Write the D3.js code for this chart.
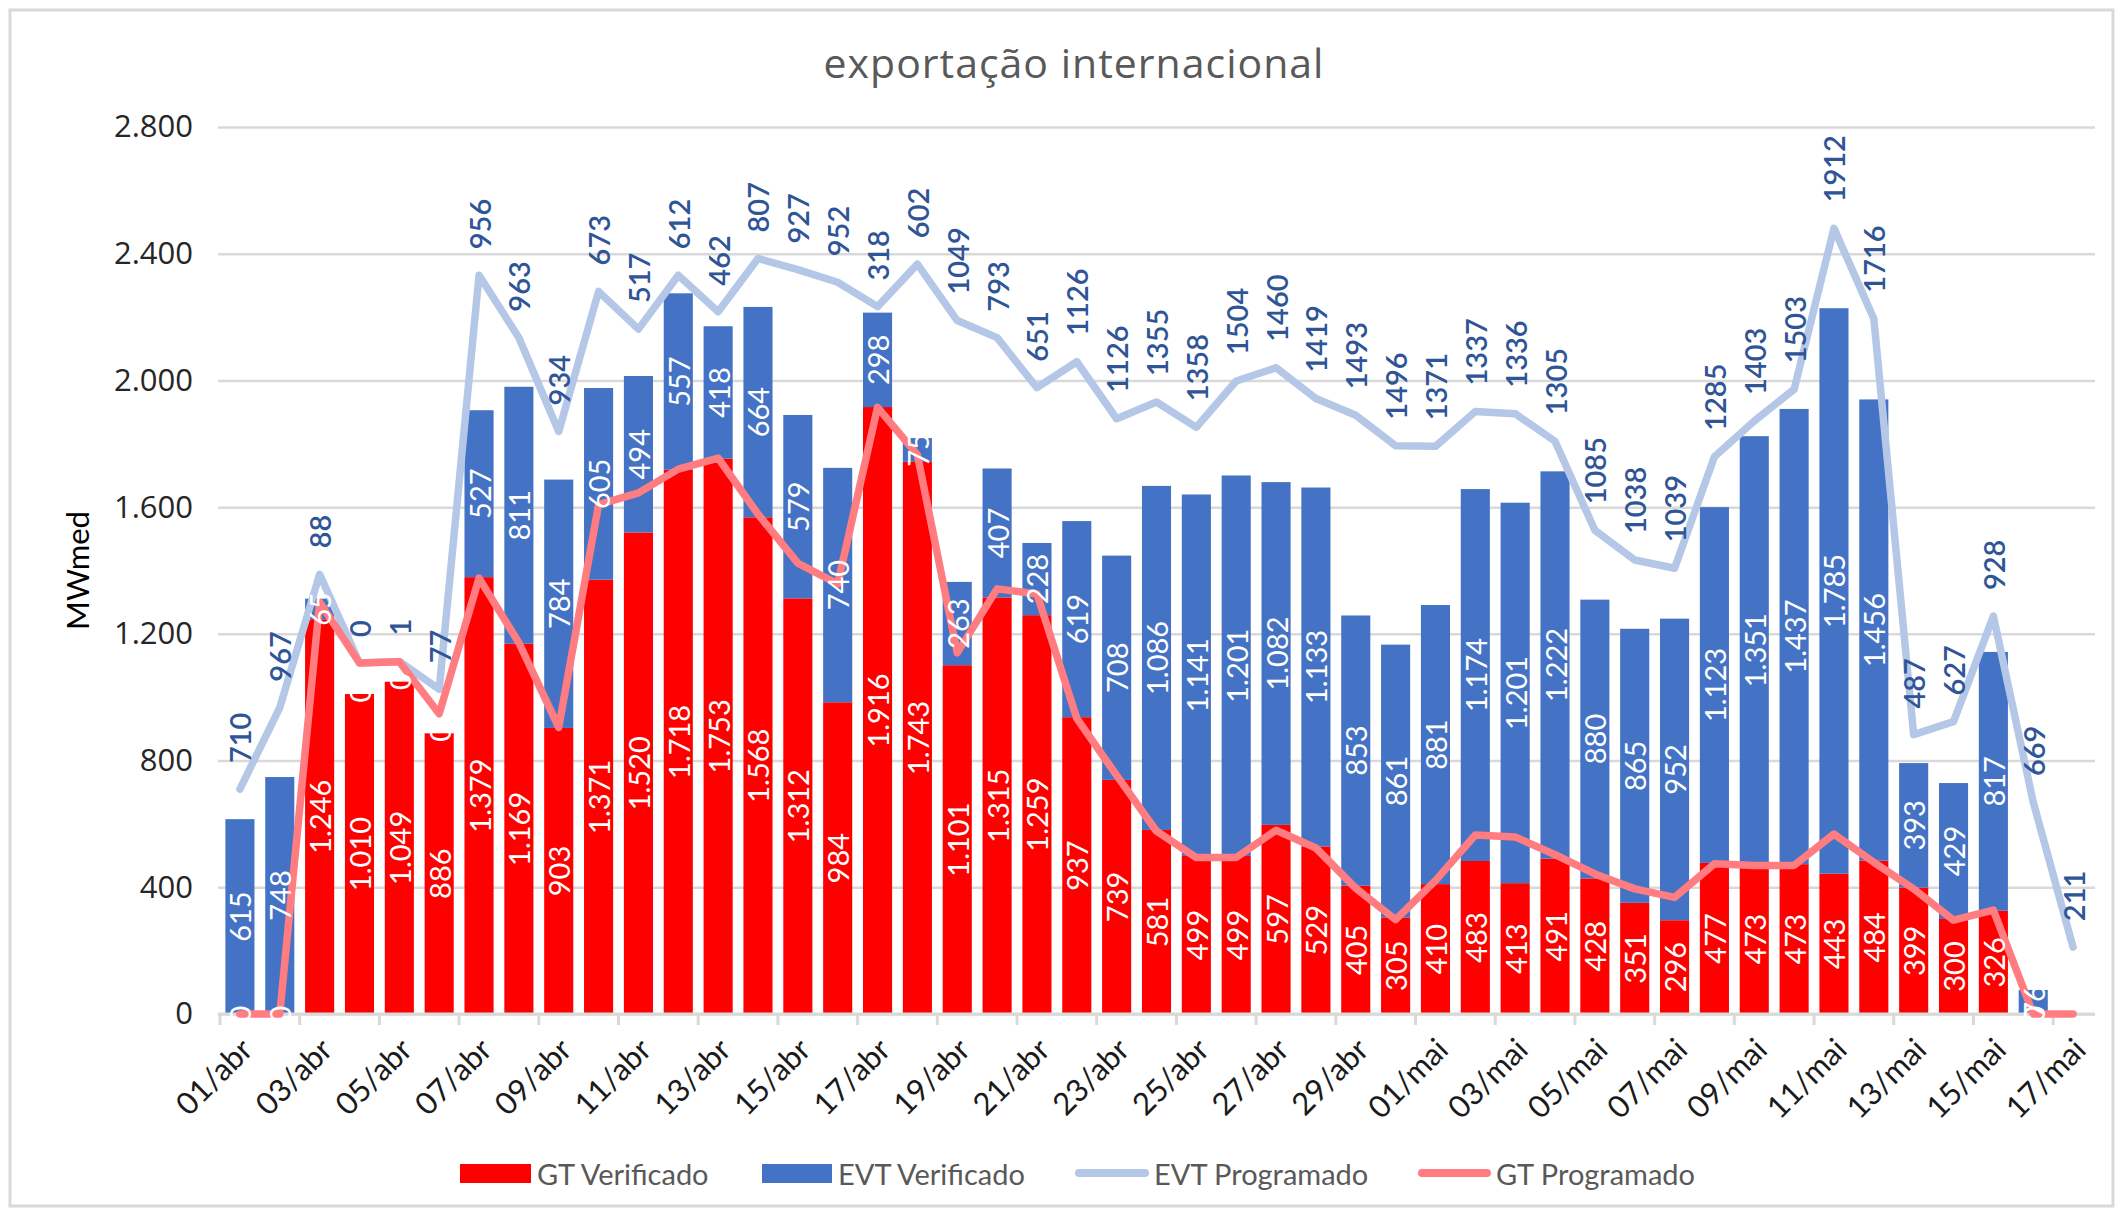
<!DOCTYPE html>
<html>
<head>
<meta charset="utf-8">
<script src="https://cdn.jsdelivr.net/npm/d3@7"></script>
<style>
  html, body { margin: 0; padding: 0; background: #ffffff; }
  svg { display: block; }
</style>
</head>
<body>
<svg id="chart" width="2123" height="1216"></svg>
<script>
// Daily dates, 01/abr .. 17/mai
const days = [
  "01/abr","02/abr","03/abr","04/abr","05/abr","06/abr","07/abr","08/abr","09/abr","10/abr",
  "11/abr","12/abr","13/abr","14/abr","15/abr","16/abr","17/abr","18/abr","19/abr","20/abr",
  "21/abr","22/abr","23/abr","24/abr","25/abr","26/abr","27/abr","28/abr","29/abr","30/abr",
  "01/mai","02/mai","03/mai","04/mai","05/mai","06/mai","07/mai","08/mai","09/mai","10/mai",
  "11/mai","12/mai","13/mai","14/mai","15/mai","16/mai","17/mai"
];

// GT Verificado (MWmed)
const gtVerificado = [
  0, 0, 1246, 1010, 1049, 886, 1379, 1169, 903, 1371,
  1520, 1718, 1753, 1568, 1312, 984, 1916, 1743, 1101, 1315,
  1259, 937, 739, 581, 499, 499, 597, 529, 405, 305,
  410, 483, 413, 491, 428, 351, 296, 477, 473, 473,
  443, 484, 399, 300, 326, 0, null
];

// EVT Verificado (MWmed), stacked on GT Verificado
const evtVerificado = [
  615, 748, 65, 0, 0, 0, 527, 811, 784, 605,
  494, 557, 418, 664, 579, 740, 298, 75, 263, 407,
  228, 619, 708, 1086, 1141, 1201, 1082, 1133, 853, 861,
  881, 1174, 1201, 1222, 880, 865, 952, 1123, 1351, 1437,
  1785, 1456, 393, 429, 817, 76, null
];

// GT Programado (MWmed)
const gtProgramado = [
  0, 0, 1300, 1108, 1112, 948, 1376, 1172, 905, 1608,
  1645, 1720, 1755, 1578, 1423, 1358, 1915, 1765, 1140, 1342,
  1326, 933, 753, 577, 494, 494, 580, 524, 397, 298,
  421, 565, 559, 503, 442, 395, 368, 474, 469, 469,
  568, 479, 395, 296, 328, 0, 0
];

// EVT Programado (MWmed), stacked line on top of GT Programado
const evtProgramado = [
  710, 967, 88, 0, 1, 77, 956, 963, 934, 673,
  517, 612, 462, 807, 927, 952, 318, 602, 1049, 793,
  651, 1126, 1126, 1355, 1358, 1504, 1460, 1419, 1493, 1496,
  1371, 1337, 1336, 1305, 1085, 1038, 1039, 1285, 1403, 1503,
  1912, 1716, 487, 627, 928, 669, 211
];

const yTicks = [0, 400, 800, 1200, 1600, 2000, 2400, 2800];

const seriesNames = ["GT Verificado", "EVT Verificado", "EVT Programado", "GT Programado"];

// ---------------------------------------------------------------------------
const W = 2123, H = 1216;
const plot = { left: 220, right: 2093, top: 127, bottom: 1014 };
const C = {
  gtV: "#FF0000",
  evtV: "#4472C4",
  evtP: "#B4C7E7",
  gtP: "#FF7C80",
  grid: "#D9D9D9",
  evtLabel: "#2F5597",
  text: "#595959"
};
const FONT = "Lato, 'Open Sans', sans-serif";

const ptBR = d3.formatLocale({ decimal: ",", thousands: ".", grouping: [3], currency: ["R$", ""] });
const fmtDot = ptBR.format(",d");
const fmtPlain = d3.format("d");

const svg = d3.select("#chart");

// chart border
svg.append("rect")
  .attr("x", 10).attr("y", 10)
  .attr("width", W - 20).attr("height", H - 20)
  .attr("fill", "#fff").attr("stroke", C.grid).attr("stroke-width", 3);

const x = d3.scaleBand().domain(days).range([plot.left, plot.right]).paddingInner(0.27).paddingOuter(0.135);
const xc = d => x(d) + x.bandwidth() / 2;
const y = d3.scaleLinear().domain([0, 2800]).range([plot.bottom, plot.top]);

// gridlines + y labels
const yAxis = d3.axisLeft(y).tickValues(yTicks).tickSize(-(plot.right - plot.left + 4)).tickPadding(25)
  .tickFormat(d => fmtDot(d));
const gy = svg.append("g").attr("transform", `translate(${plot.left - 2},0)`).call(yAxis);
gy.select(".domain").remove();
gy.selectAll(".tick line").attr("stroke", C.grid).attr("stroke-width", 2.5);
gy.selectAll(".tick text")
  .attr("font-family", "'Open Sans', sans-serif").attr("font-size", 31).attr("fill", "#262626");

// y title
svg.append("text")
  .attr("transform", `translate(77,${(plot.top + plot.bottom) / 2}) rotate(-90)`)
  .attr("text-anchor", "middle").attr("dominant-baseline", "central")
  .attr("font-family", FONT).attr("font-size", 31).attr("fill", "#000")
  .text("MWmed");

// title
svg.append("text")
  .attr("x", 1074).attr("y", 62)
  .attr("text-anchor", "middle").attr("dominant-baseline", "central")
  .attr("font-family", "'Open Sans', sans-serif").attr("font-size", 41)
  .attr("letter-spacing", 1).attr("fill", C.text)
  .text("exportação internacional");

// stacked bars
const rows = days.map((d, i) => ({ day: d, gt: gtVerificado[i], evt: evtVerificado[i], gtp: gtProgramado[i], evtp: evtProgramado[i] }));
const barRows = rows.filter(r => r.gt !== null && r.evt !== null);

const gBars = svg.append("g");
gBars.selectAll("rect.gt").data(barRows).join("rect").attr("class", "gt")
  .attr("x", r => x(r.day)).attr("width", x.bandwidth())
  .attr("y", r => y(r.gt)).attr("height", r => y(0) - y(r.gt))
  .attr("fill", C.gtV);
gBars.selectAll("rect.evt").data(barRows).join("rect").attr("class", "evt")
  .attr("x", r => x(r.day)).attr("width", x.bandwidth())
  .attr("y", r => y(r.gt + r.evt)).attr("height", r => y(r.gt) - y(r.gt + r.evt))
  .attr("fill", C.evtV);

// x axis line + ticks every two days
svg.append("line")
  .attr("x1", plot.left - 2).attr("x2", plot.right + 2)
  .attr("y1", plot.bottom).attr("y2", plot.bottom)
  .attr("stroke", C.grid).attr("stroke-width", 3);
const step = x.step();
const tickXs = d3.range(0, days.length, 2).map(i => x(days[i]) - (step - x.bandwidth()) / 2);
svg.append("g").selectAll("line").data(tickXs).join("line")
  .attr("x1", d => d).attr("x2", d => d)
  .attr("y1", plot.bottom).attr("y2", plot.bottom + 11)
  .attr("stroke", C.grid).attr("stroke-width", 3);

// x labels (every other day)
svg.append("g").selectAll("text").data(days.filter((d, i) => i % 2 === 0)).join("text")
  .attr("transform", d => `translate(${xc(d) + 7},${plot.bottom + 30}) rotate(-45)`)
  .attr("text-anchor", "end").attr("dy", "0.35em")
  .attr("font-family", FONT).attr("font-size", 31).attr("fill", "#1a1a1a")
  .text(d => d);

// lines
const lineEvt = d3.line().x(r => xc(r.day)).y(r => y(r.gtp + r.evtp));
const lineGt = d3.line().x(r => xc(r.day)).y(r => y(r.gtp));
svg.append("path").datum(rows).attr("d", lineEvt)
  .attr("fill", "none").attr("stroke", C.evtP).attr("stroke-width", 7.5)
  .attr("stroke-linejoin", "round").attr("stroke-linecap", "round");
svg.append("path").datum(rows).attr("d", lineGt)
  .attr("fill", "none").attr("stroke", C.gtP).attr("stroke-width", 7.5)
  .attr("stroke-linejoin", "round").attr("stroke-linecap", "round");

// data labels
const gLab = svg.append("g").attr("font-family", FONT).attr("font-size", 29);
gLab.selectAll("text.gtv").data(barRows).join("text").attr("class", "gtv")
  .attr("transform", r => `translate(${xc(r.day)},${(y(0) + y(r.gt)) / 2}) rotate(-90)`)
  .attr("text-anchor", "middle").attr("dominant-baseline", "central")
  .attr("fill", "#fff").text(r => fmtDot(r.gt));
gLab.selectAll("text.evtv").data(barRows).join("text").attr("class", "evtv")
  .attr("transform", r => `translate(${xc(r.day)},${(y(r.gt) + y(r.gt + r.evt)) / 2}) rotate(-90)`)
  .attr("text-anchor", "middle").attr("dominant-baseline", "central")
  .attr("fill", "#fff").text(r => fmtDot(r.evt));
gLab.selectAll("text.evtp").data(rows).join("text").attr("class", "evtp")
  .attr("transform", r => `translate(${xc(r.day)},${y(r.gtp + r.evtp) - 26}) rotate(-90)`)
  .attr("text-anchor", "start").attr("dominant-baseline", "central")
  .attr("fill", C.evtLabel).attr("font-weight", 600).text(r => fmtPlain(r.evtp));

// legend
const legY = 1173;
const leg = svg.append("g").attr("font-family", FONT).attr("font-size", 29).attr("fill", C.text);
const legItems = [
  { name: seriesNames[0], kind: "rect", color: C.gtV, x0: 460, x1: 531, tx: 537 },
  { name: seriesNames[1], kind: "rect", color: C.evtV, x0: 762, x1: 832, tx: 838 },
  { name: seriesNames[2], kind: "line", color: C.evtP, x0: 1079, x1: 1145, tx: 1154 },
  { name: seriesNames[3], kind: "line", color: C.gtP, x0: 1422, x1: 1487, tx: 1496 }
];
legItems.forEach(it => {
  if (it.kind === "rect") {
    leg.append("rect").attr("x", it.x0).attr("y", legY - 9).attr("width", it.x1 - it.x0).attr("height", 19).attr("fill", it.color);
  } else {
    leg.append("line").attr("x1", it.x0).attr("x2", it.x1).attr("y1", legY).attr("y2", legY)
      .attr("stroke", it.color).attr("stroke-width", 8).attr("stroke-linecap", "round");
  }
  leg.append("text").attr("x", it.tx).attr("y", legY).attr("dominant-baseline", "central").text(it.name);
});
</script>
</body>
</html>
